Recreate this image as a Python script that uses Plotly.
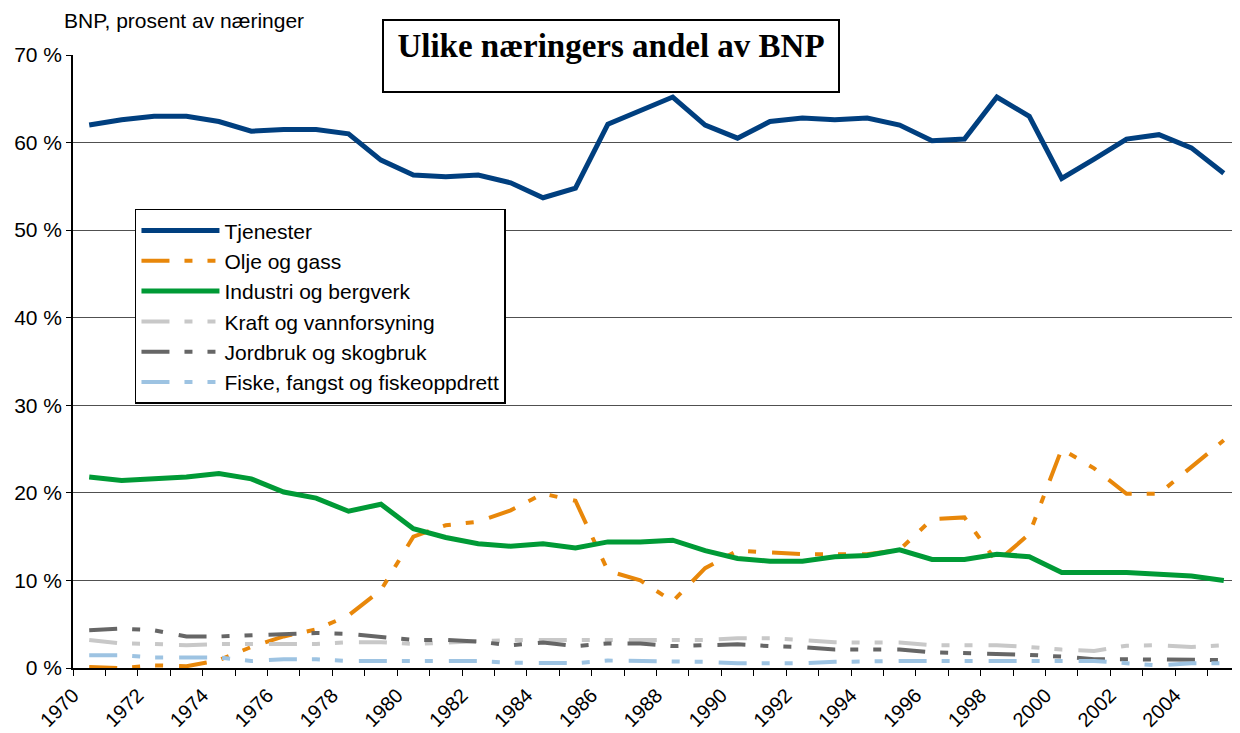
import plotly.graph_objects as go

YEARS = list(range(1970, 2006))

TJENESTER = [62.0, 62.6, 63.0, 63.0, 62.4, 61.3, 61.5, 61.5, 61.0, 58.0,
             56.3, 56.1, 56.3, 55.4, 53.7, 54.8, 62.1, 63.7, 65.2, 62.0,
             60.5, 62.4, 62.8, 62.6, 62.8, 62.0, 60.2, 60.4, 65.2, 63.0,
             55.9, 58.1, 60.4, 60.9, 59.4, 56.5]
OLJE = [0.1, 0.0, 0.3, 0.2, 0.9, 2.4, 3.6, 4.4, 6.0, 8.9,
        15.0, 16.3, 16.7, 18.0, 19.9, 19.1, 11.1, 10.0, 7.6, 11.4,
        13.4, 13.2, 13.0, 13.0, 13.0, 13.5, 17.0, 17.2, 12.1, 15.3,
        25.0, 22.8, 19.9, 19.9, 22.9, 26.0]
INDUSTRI = [21.8, 21.4, 21.6, 21.8, 22.2, 21.6, 20.1, 19.4, 17.9, 18.7,
            15.9, 14.9, 14.2, 13.9, 14.2, 13.7, 14.4, 14.4, 14.6, 13.4,
            12.5, 12.2, 12.2, 12.7, 12.85, 13.5, 12.4, 12.4, 13.0, 12.7,
            10.9, 10.9, 10.9, 10.7, 10.5, 10.0]
KRAFT = [3.2, 2.8, 2.75, 2.6, 2.75, 2.75, 2.75, 2.75, 2.95, 2.95,
         2.75, 2.9, 3.1, 3.2, 3.2, 3.2, 3.2, 3.2, 3.2, 3.2,
         3.4, 3.4, 3.2, 2.95, 2.9, 2.9, 2.6, 2.6, 2.6, 2.4,
         2.1, 1.95, 2.55, 2.6, 2.4, 2.6]
JORDBRUK = [4.3, 4.5, 4.3, 3.6, 3.6, 3.7, 3.85, 4.0, 3.9, 3.5,
            3.2, 3.2, 3.0, 2.6, 2.9, 2.5, 2.8, 2.8, 2.5, 2.6,
            2.7, 2.5, 2.4, 2.1, 2.1, 2.1, 1.8, 1.7, 1.7, 1.5,
            1.3, 1.0, 1.0, 1.0, 1.0, 0.9]
FISKE = [1.45, 1.45, 1.2, 1.2, 1.2, 0.8, 1.0, 1.0, 0.8, 0.8,
         0.8, 0.8, 0.8, 0.6, 0.55, 0.55, 0.85, 0.8, 0.8, 0.7,
         0.55, 0.55, 0.55, 0.7, 0.8, 0.8, 0.8, 0.8, 0.8, 0.8,
         0.8, 0.8, 0.55, 0.3, 0.55, 0.55]

YTICKS = [0, 10, 20, 30, 40, 50, 60, 70]
XTICKS = list(range(1970, 2006, 2))

FONT = "Arial, Liberation Sans, sans-serif"
DASH = "28px,15px,8px,15px,8px,16px"

# points sit in the middle of each year's category
xs = [y + 0.5 for y in YEARS]

series = [
    ("Tjenester", TJENESTER, "#003f7f", 5, "solid"),
    ("Olje og gass", OLJE, "#e8870a", 4, DASH),
    ("Industri og bergverk", INDUSTRI, "#009a36", 5, "solid"),
    ("Kraft og vannforsyning", KRAFT, "#c8c8c8", 4, DASH),
    ("Jordbruk og skogbruk", JORDBRUK, "#666666", 4, DASH),
    ("Fiske, fangst og fiskeoppdrett", FISKE, "#9dc3e2", 4, DASH),
]

fig = go.Figure()
for name, vals, col, w, dash in series:
    fig.add_trace(go.Scatter(
        x=xs, y=vals, name=name, mode="lines",
        line=dict(color=col, width=w, dash=dash),
    ))

fig.update_xaxes(
    range=[1970, 2006], tickmode="array", tickvals=XTICKS,
    ticktext=[str(t) for t in XTICKS], tickangle=-45,
    ticks="outside", ticklen=6, tickcolor="black",
    minor=dict(tickmode="linear", tick0=1970, dtick=1, ticks="outside",
               ticklen=6, tickcolor="black"),
    showline=True, linecolor="black", linewidth=1.5,
    showgrid=False, zeroline=False, automargin=False,
    tickfont=dict(family=FONT, size=20, color="black"),
)
fig.update_yaxes(
    range=[0, 70], tickmode="array", tickvals=YTICKS,
    ticktext=[f"{t} %" for t in YTICKS],
    ticks="outside", ticklen=5, tickcolor="black",
    showline=True, linecolor="black", linewidth=1.5,
    showgrid=True, gridcolor="#505050", gridwidth=1, zeroline=False,
    automargin=False,
    tickfont=dict(family=FONT, size=21, color="black"),
)

fig.add_annotation(
    text="BNP, prosent av næringer", xref="paper", yref="paper",
    x=-0.009, y=1.057, xanchor="left", yanchor="middle", showarrow=False,
    font=dict(family=FONT, size=21, color="black"),
)
fig.add_annotation(
    text="<b>Ulike næringers andel av BNP</b>", xref="paper", yref="paper",
    x=0.4614, y=1.0587, xanchor="center", yanchor="top", showarrow=False,
    width=440, height=56, valign="top", borderpad=7,
    bgcolor="white", bordercolor="black", borderwidth=2,
    font=dict(family="Times New Roman, Liberation Serif, serif", size=33, color="black"),
)

# the page body has an 8px margin, so the figure is 8px smaller than the window
fig.update_layout(
    width=1232, height=725,
    margin=dict(l=65, r=0, t=47, b=65),
    paper_bgcolor="white", plot_bgcolor="white",
    legend=dict(
        x=0.0531, y=0.749, xanchor="left", yanchor="top",
        bgcolor="white", bordercolor="black", borderwidth=1.5,
        font=dict(family=FONT, size=21, color="black"),
        tracegroupgap=0, itemwidth=78,
    ),
)

fig.write_html("out.html")
